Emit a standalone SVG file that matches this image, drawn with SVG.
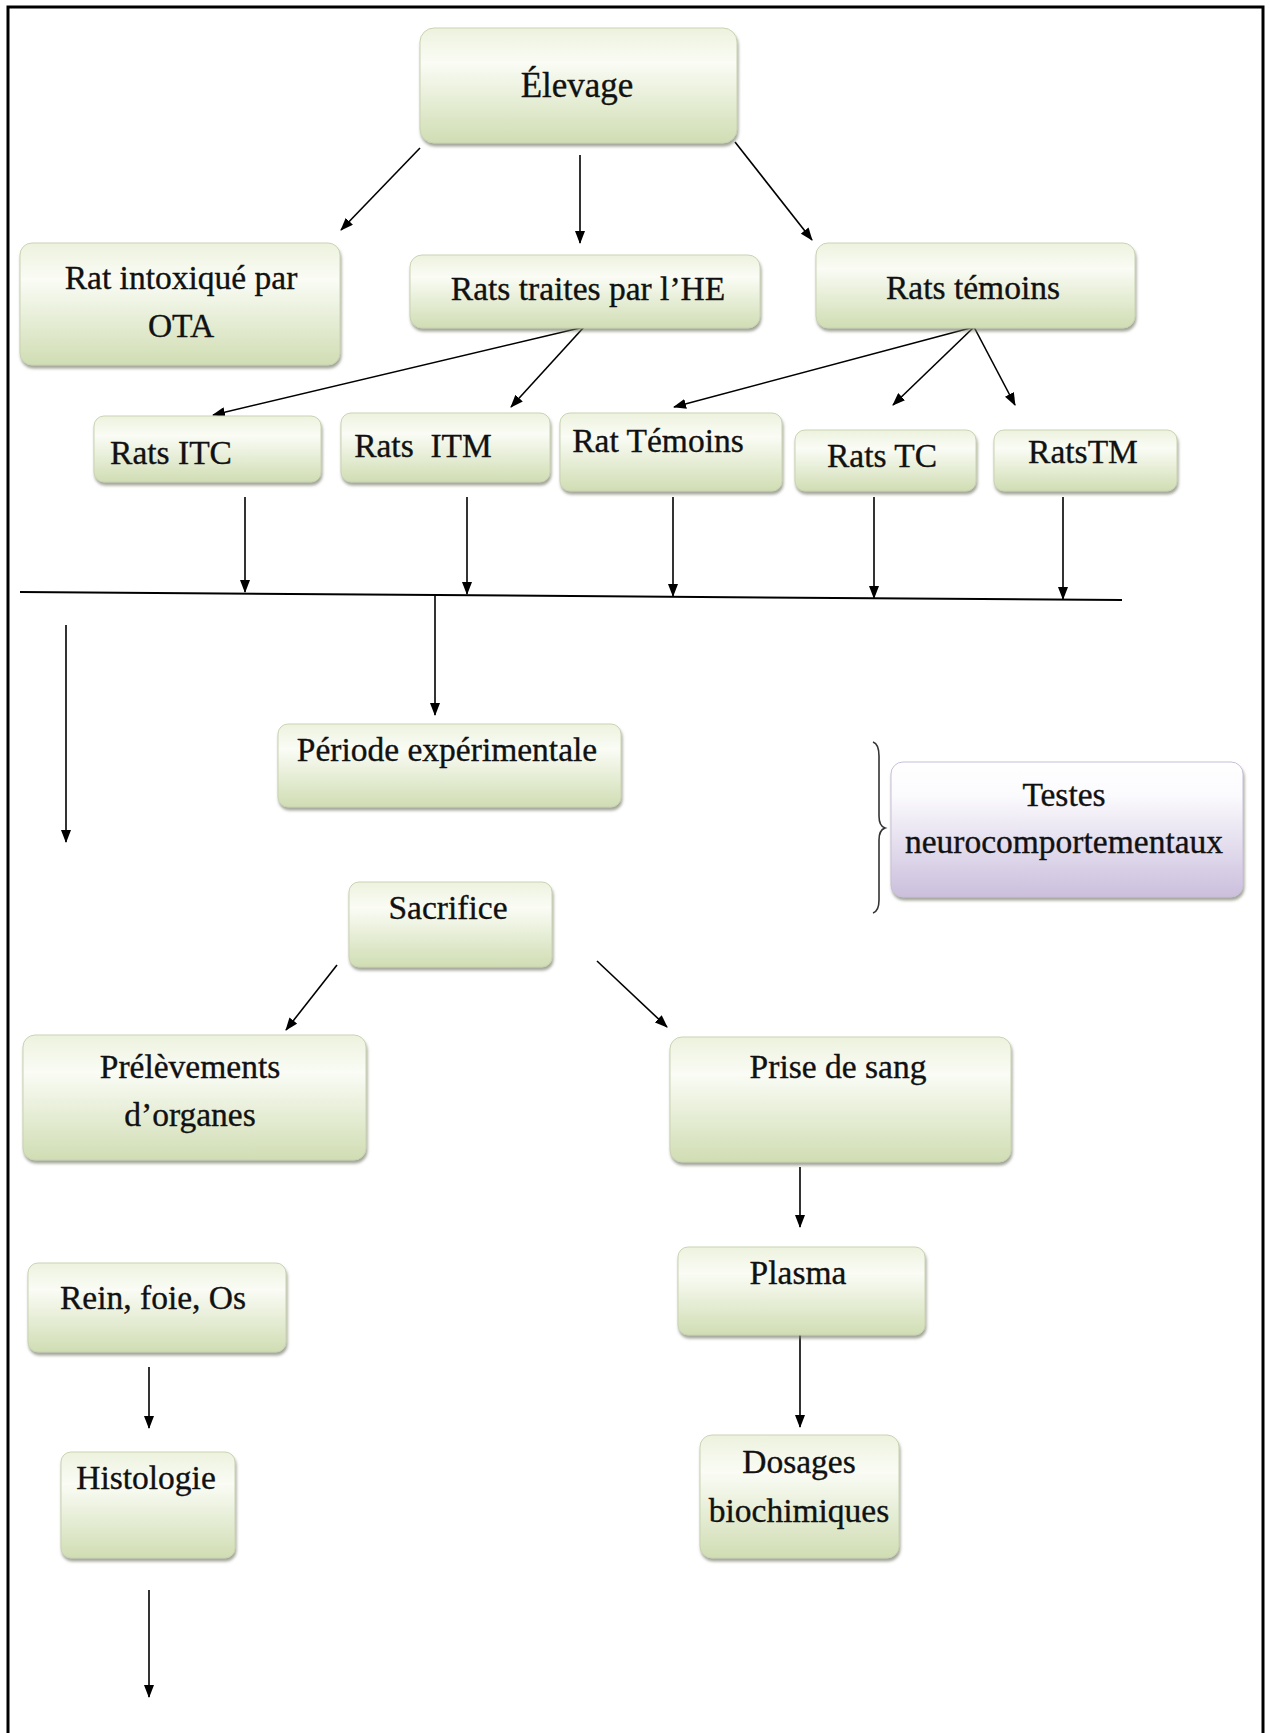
<svg xmlns="http://www.w3.org/2000/svg" width="1270" height="1733" viewBox="0 0 1270 1733">
<style>
  .box { fill: url(#gGreen); stroke: #c9d3b3; stroke-width: 1; filter: url(#sh); }
  .pbox { fill: url(#gPurple); stroke: #c8bfd6; stroke-width: 1; filter: url(#sh); }
  .t { font-family: "Liberation Serif", "Times New Roman", serif; font-size: 33.5px; fill: #111; stroke: #111; stroke-width: 0.35; text-anchor: middle; }
  .c { stroke: #000; stroke-width: 1.6; fill: none; marker-end: url(#ah); }
</style>
<defs>
  <linearGradient id="gGreen" x1="0" y1="0" x2="0" y2="1">
    <stop offset="0" stop-color="#edf2de"/>
    <stop offset="0.3" stop-color="#fafcf5"/>
    <stop offset="1" stop-color="#d0ddb3"/>
  </linearGradient>
  <linearGradient id="gPurple" x1="0" y1="0" x2="0" y2="1">
    <stop offset="0" stop-color="#ffffff"/>
    <stop offset="0.25" stop-color="#fbfafd"/>
    <stop offset="1" stop-color="#cbbfdd"/>
  </linearGradient>
  <filter id="sh" x="-10%" y="-10%" width="120%" height="130%">
    <feDropShadow dx="1" dy="3" stdDeviation="1.5" flood-color="#6f7561" flood-opacity="0.65"/>
  </filter>
  <marker id="ah" markerUnits="userSpaceOnUse" markerWidth="13" markerHeight="10" refX="12" refY="5" orient="auto">
    <path d="M0,0 L13,5 L0,10 z" fill="#000"/>
  </marker>
</defs>
<rect width="1270" height="1733" fill="#fff"/>
<rect x="8" y="7" width="1255" height="1740" fill="none" stroke="#000" stroke-width="3"/>

<g id="connectors">
  <line class="c" x1="420" y1="148" x2="341" y2="230"/>
  <line class="c" x1="580" y1="155" x2="580" y2="243"/>
  <line class="c" x1="735" y1="142" x2="812" y2="240"/>
  <line class="c" x1="584" y1="327" x2="213" y2="415"/>
  <line class="c" x1="584" y1="327" x2="511" y2="407"/>
  <line class="c" x1="974" y1="327" x2="674" y2="407"/>
  <line class="c" x1="974" y1="327" x2="893" y2="405"/>
  <line class="c" x1="974" y1="327" x2="1015" y2="405"/>
  <line class="c" x1="245" y1="497" x2="245" y2="592"/>
  <line class="c" x1="467" y1="497" x2="467" y2="594"/>
  <line class="c" x1="673" y1="497" x2="673" y2="596"/>
  <line class="c" x1="874" y1="497" x2="874" y2="598"/>
  <line class="c" x1="1063" y1="497" x2="1063" y2="599"/>
  <line x1="20" y1="592" x2="1122" y2="600" stroke="#000" stroke-width="2"/>
  <line class="c" x1="435" y1="594" x2="435" y2="715"/>
  <line class="c" x1="66" y1="625" x2="66" y2="842"/>
  <line class="c" x1="337" y1="965" x2="286" y2="1030"/>
  <line class="c" x1="597" y1="961" x2="667" y2="1027"/>
  <line class="c" x1="800" y1="1167" x2="800" y2="1227"/>
  <line class="c" x1="800" y1="1335" x2="800" y2="1427"/>
  <line class="c" x1="149" y1="1367" x2="149" y2="1428"/>
  <line class="c" x1="149" y1="1590" x2="149" y2="1697"/>
  <path d="M873,742 Q879,744 879,756 L879,816 Q879,826 885,828 Q879,830 879,840 L879,900 Q879,911 873,913" fill="none" stroke="#333" stroke-width="1.6"/>
</g>

<g id="elevage"><rect class="box" x="420" y="28" width="317" height="115" rx="14"/><text class="t" x="577" y="97" style="font-size:35px">Élevage</text></g>
<g id="rat-intoxique"><rect class="box" x="20" y="243" width="320" height="122" rx="12"/><text class="t" x="181" y="289">Rat intoxiqué par</text><text class="t" x="181" y="337">OTA</text></g>
<g id="rats-traites"><rect class="box" x="410" y="255" width="350" height="73" rx="12"/><text class="t" x="588" y="300">Rats traites par l’HE</text></g>
<g id="rats-temoins"><rect class="box" x="816" y="243" width="319" height="85" rx="12"/><text class="t" x="973" y="299">Rats témoins</text></g>
<g id="rats-itc"><rect class="box" x="94" y="416" width="227" height="66" rx="10"/><text class="t" x="171" y="464">Rats ITC</text></g>
<g id="rats-itm"><rect class="box" x="341" y="413" width="209" height="69" rx="10"/><text class="t" x="423" y="457" xml:space="preserve">Rats  ITM</text></g>
<g id="rat-temoins"><rect class="box" x="560" y="413" width="222" height="78" rx="10"/><text class="t" x="658" y="452">Rat Témoins</text></g>
<g id="rats-tc"><rect class="box" x="795" y="430" width="181" height="61" rx="10"/><text class="t" x="882" y="467">Rats TC</text></g>
<g id="rats-tm"><rect class="box" x="994" y="430" width="183" height="61" rx="10"/><text class="t" x="1083" y="463">RatsTM</text></g>
<g id="periode"><rect class="box" x="278" y="724" width="343" height="83" rx="10"/><text class="t" x="447" y="761">Période expérimentale</text></g>
<g id="testes"><rect class="pbox" x="891" y="762" width="352" height="135" rx="12"/><text class="t" x="1064" y="806">Testes</text><text class="t" x="1064" y="853">neurocomportementaux</text></g>
<g id="sacrifice"><rect class="box" x="349" y="882" width="203" height="85" rx="10"/><text class="t" x="448" y="919">Sacrifice</text></g>
<g id="prelevements"><rect class="box" x="23" y="1035" width="343" height="125" rx="12"/><text class="t" x="190" y="1078">Prélèvements</text><text class="t" x="190" y="1126">d’organes</text></g>
<g id="prise-sang"><rect class="box" x="670" y="1037" width="341" height="125" rx="12"/><text class="t" x="838" y="1078">Prise de sang</text></g>
<g id="plasma"><rect class="box" x="678" y="1247" width="247" height="88" rx="10"/><text class="t" x="798" y="1284">Plasma</text></g>
<g id="rein"><rect class="box" x="28" y="1263" width="258" height="89" rx="10"/><text class="t" x="153" y="1309">Rein, foie, Os</text></g>
<g id="histologie"><rect class="box" x="61" y="1452" width="174" height="106" rx="10"/><text class="t" x="146" y="1489">Histologie</text></g>
<g id="dosages"><rect class="box" x="700" y="1435" width="199" height="123" rx="12"/><text class="t" x="799" y="1473">Dosages</text><text class="t" x="799" y="1522">biochimiques</text></g>
</svg>
